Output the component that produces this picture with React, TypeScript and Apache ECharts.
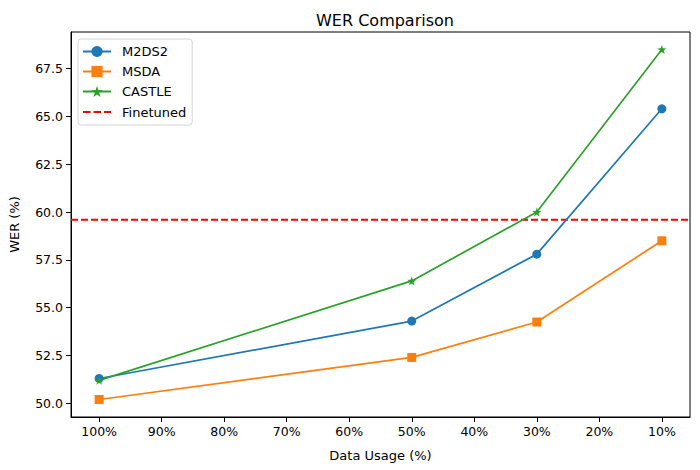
import React, { useEffect, useRef } from "react";
import * as echarts from "echarts";

const categories = ["100%", "90%", "80%", "70%", "60%", "50%", "40%", "30%", "20%", "10%"];
const pointIndex = [0, 5, 7, 9];
const m2ds2 = [51.3, 54.3, 57.8, 65.4];
const msda = [50.2, 52.4, 54.25, 58.5];
const castle = [51.2, 56.4, 60.0, 68.5];
const finetuned = 59.6;
const yTicks = [50.0, 52.5, 55.0, 57.5, 60.0, 62.5, 65.0, 67.5];

const STAR =
  "path://M0,-10 L2.35,-3.24 L9.51,-3.09 L3.80,1.24 L5.88,8.09 L0,4 L-5.88,8.09 L-3.80,1.24 L-9.51,-3.09 L-2.35,-3.24 Z";
const DASH_ICON =
  "path://M0,0 L0.01,0 Z M0,14 L0.01,14 Z M0,6 L7.5,6 L7.5,8 L0,8 Z M10.5,6 L18,6 L18,8 L10.5,8 Z M21,6 L28,6 L28,8 L21,8 Z";

const FONT = "DejaVu Sans";

export default function App() {
  const ref = useRef<HTMLDivElement>(null);
  useEffect(() => {
    document.body.style.margin = "0";
    const chart = echarts.init(ref.current!, null, { renderer: "svg" });
    const pts = (vals: number[]) => vals.map((v, i) => [pointIndex[i], v]);
    const xMin = -0.45;
    const xMax = categories.length - 1 + 0.45;
    chart.setOption({
      animation: false,
      backgroundColor: "#fff",
      textStyle: { fontFamily: FONT },
      title: {
        text: "WER Comparison",
        left: 380,
        top: 7,
        textAlign: "center",
        textStyle: { fontFamily: FONT, fontSize: 16, fontWeight: "normal", color: "#000" },
      },
      grid: {
        left: 70,
        right: 10,
        top: 32,
        bottom: 53,
        show: true,
        borderColor: "#000",
        borderWidth: 1,
        backgroundColor: "transparent",
      },
      legend: {
        orient: "vertical",
        left: 78,
        top: 39,
        padding: [6, 6, 6, 4],
        itemWidth: 28,
        itemHeight: 14,
        itemGap: 7,
        borderColor: "#d4d4d4",
        borderWidth: 1,
        borderRadius: 3,
        backgroundColor: "rgba(255,255,255,0.8)",
        textStyle: { fontFamily: FONT, fontSize: 13, color: "#000", padding: [0, 0, 0, 6] },
        data: [
          "M2DS2",
          "MSDA",
          "CASTLE",
          { name: "Finetuned", icon: DASH_ICON, itemStyle: { color: "#ff0000" } },
        ],
      },
      xAxis: {
        type: "value",
        min: xMin,
        max: xMax,
        name: "Data Usage (%)",
        nameLocation: "middle",
        nameGap: 32,
        nameTextStyle: { fontFamily: FONT, fontSize: 13, color: "#000" },
        splitLine: { show: false },
        axisLine: { show: true, onZero: false, lineStyle: { color: "#000" } },
        axisTick: {
          show: true,
          length: 5,
          lineStyle: { color: "#000" },
          customValues: categories.map((_, i) => i),
        },
        axisLabel: {
          fontFamily: FONT,
          fontSize: 12.5,
          color: "#000",
          margin: 8,
          customValues: categories.map((_, i) => i),
          formatter: (v: number) => categories[Math.round(v)] ?? "",
        },
      },
      yAxis: {
        type: "value",
        min: 49.285,
        max: 69.415,
        name: "WER (%)",
        nameLocation: "middle",
        nameGap: 50,
        nameTextStyle: { fontFamily: FONT, fontSize: 13, color: "#000" },
        splitLine: { show: false },
        axisLine: { show: true, onZero: false, lineStyle: { color: "#000" } },
        axisTick: { show: true, length: 5, lineStyle: { color: "#000" }, customValues: yTicks },
        axisLabel: {
          fontFamily: FONT,
          fontSize: 12.5,
          color: "#000",
          margin: 8,
          customValues: yTicks,
          formatter: (v: number) => v.toFixed(1),
        },
      },
      series: [
        {
          name: "Finetuned",
          type: "line",
          data: [
            [xMin, finetuned],
            [xMax, finetuned],
          ],
          symbol: "none",
          lineStyle: { color: "#ff0000", width: 2, type: [7, 3] },
          itemStyle: { color: "#ff0000" },
          z: 1,
        },
        {
          name: "M2DS2",
          type: "line",
          data: pts(m2ds2),
          symbol: "circle",
          symbolSize: 9,
          lineStyle: { color: "#1f77b4", width: 1.7 },
          itemStyle: { color: "#1f77b4" },
          z: 3,
        },
        {
          name: "MSDA",
          type: "line",
          data: pts(msda),
          symbol: "rect",
          symbolSize: 9,
          lineStyle: { color: "#ff7f0e", width: 1.7 },
          itemStyle: { color: "#ff7f0e" },
          z: 3,
        },
        {
          name: "CASTLE",
          type: "line",
          data: pts(castle),
          symbol: STAR,
          symbolSize: 9,
          lineStyle: { color: "#2ca02c", width: 1.7 },
          itemStyle: { color: "#2ca02c" },
          z: 3,
        },
      ],
    });
    return () => chart.dispose();
  }, []);
  return <div ref={ref} style={{ width: 700, height: 470 }} />;
}
